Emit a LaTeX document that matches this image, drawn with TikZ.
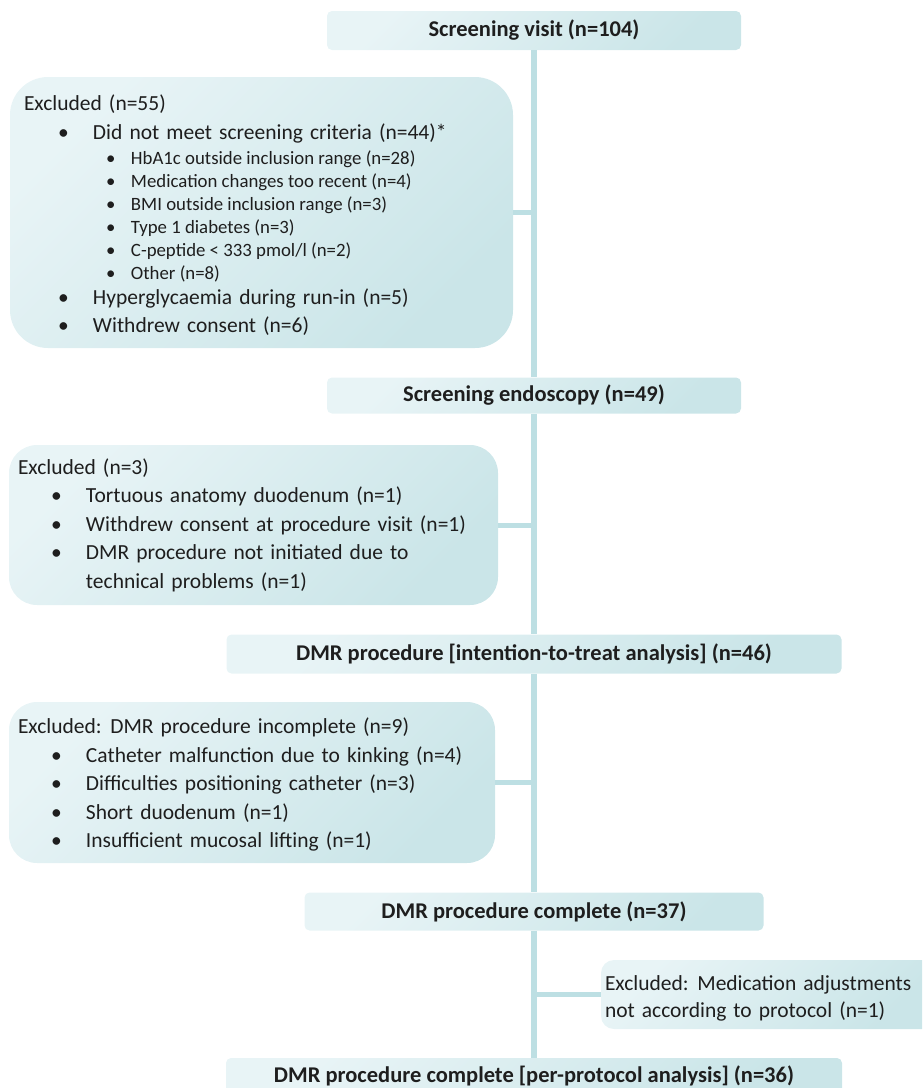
\documentclass[tikz,border=0pt]{standalone}
\usepackage{fontspec}
\setmainfont{Carlito}
\definecolor{boxlight}{HTML}{E8F4F6}
\definecolor{boxmid}{HTML}{E0F0F2}
\definecolor{boxdark}{HTML}{CAE5E8}
\definecolor{linecol}{HTML}{BDDFE3}
\definecolor{txt}{HTML}{1E1E1E}
\newcommand\mainsz{\fontsize{21.5}{28.5}\selectfont\spaceskip=0.33em plus 0.1em\relax}
\newcommand\subsz{\fontsize{18.8}{23}\selectfont\spaceskip=0pt\relax}
\newcommand\itA[1]{\hspace*{34pt}\makebox[35pt][l]{\textbullet}#1\par}
\newcommand\itB[1]{\hspace*{33pt}\makebox[35pt][l]{\textbullet}#1\par}
\newcommand\itS[1]{\hspace*{82pt}\makebox[25pt][l]{\textbullet}#1\par}
\tikzset{
  boxbase/.style={draw=none, left color=boxlight, middle color=boxmid, right color=boxdark, shading angle=45, inner sep=0pt, text=txt},
  titlebox/.style={boxbase, rounded corners=5pt, font=\fontsize{22.5}{26}\selectfont\bfseries},
  exbox/.style={boxbase},
  conn/.style={draw=linecol, line width=5pt},
  vconn/.style={draw=linecol, line width=6pt},
}
\begin{document}
\begin{tikzpicture}[x=1pt, y=-1pt]
\useasboundingbox (0,0) rectangle (922,1088);
\clip (0,0) rectangle (922,1088);
% main stream
\node[titlebox, minimum width=414pt, minimum height=39pt] (sv) at (534,30.5) {Screening visit (n=104)};
\node[titlebox, minimum width=414pt, minimum height=36pt] (se) at (534,395.5) {Screening endoscopy (n=49)};
\node[titlebox, minimum width=615pt, minimum height=39pt] (itt) at (534,654) {DMR procedure [intention-to-treat analysis] (n=46)};
\node[titlebox, minimum width=459pt, minimum height=38pt] (c37) at (534,911.5) {DMR procedure complete (n=37)};
\node[titlebox, minimum width=616pt, minimum height=36pt] (fin) at (534,1076) {DMR procedure complete [per-protocol analysis] (n=36)};
% exclusion boxes
\node[exbox, rounded corners=38pt, minimum width=503pt, minimum height=271pt] (ex55) at (261.5,212.5) {%
\begin{minipage}{475pt}\mainsz
\vspace*{5pt}%
Excluded (n=55)\par
\vspace{1pt}%
\itA{Did not meet screening criteria (n=44)*}
{\subsz
\vspace{2pt}%
\itS{HbA1c outside inclusion range (n=28)}
\itS{Medication changes too recent (n=4)}
\itS{BMI outside inclusion range (n=3)}
\itS{Type 1 diabetes (n=3)}
\itS{C-peptide < 333 pmol/l (n=2)}
\itS{Other (n=8)}}
\vspace{-4pt}
\itA{Hyperglycaemia during run-in (n=5)}
\itA{Withdrew consent (n=6)}
\end{minipage}};
\node[exbox, rounded corners=28pt, minimum width=489pt, minimum height=160pt] (ex3) at (253.5,525) {%
\begin{minipage}{471pt}\mainsz
Excluded (n=3)\par
\itB{Tortuous anatomy duodenum (n=1)}
\itB{Withdrew consent at procedure visit (n=1)}
\itB{DMR procedure not initiated due to}
\hspace*{68pt}technical problems (n=1)\par
\end{minipage}};
\node[exbox, rounded corners=28pt, minimum width=486pt, minimum height=161pt] (ex9) at (252,782.5) {%
\begin{minipage}{468pt}\mainsz
\vspace*{4pt}%
Excluded: DMR procedure incomplete (n=9)\par
\itB{Catheter malfunction due to kinking (n=4)}
\itB{Difficulties positioning catheter (n=3)}
\itB{Short duodenum (n=1)}
\itB{Insufficient mucosal lifting (n=1)}
\end{minipage}};
\node[exbox, rounded corners=13pt, minimum width=334pt, minimum height=69pt] (med) at (768,994.5) {%
\begin{minipage}{326pt}\fontsize{21.5}{27}\selectfont\spaceskip=0.33em plus 0.1em\relax
\vspace*{7pt}%
Excluded: Medication adjustments\par
not according to protocol (n=1)\par
\end{minipage}};
% connectors
\draw[vconn] (sv.south) -- (se.north);
\draw[vconn] (se.south) -- (itt.north);
\draw[vconn] (itt.south) -- (c37.north);
\draw[vconn] (c37.south) -- (fin.north);
\draw[conn] (ex55.east) -- (ex55.east -| sv.south);
\draw[conn] (ex3.east) -- (ex3.east -| se.south);
\draw[conn] (ex9.east) -- (ex9.east -| itt.south);
\draw[conn] (med.west) -- (med.west -| c37.south);
\end{tikzpicture}
\end{document}
